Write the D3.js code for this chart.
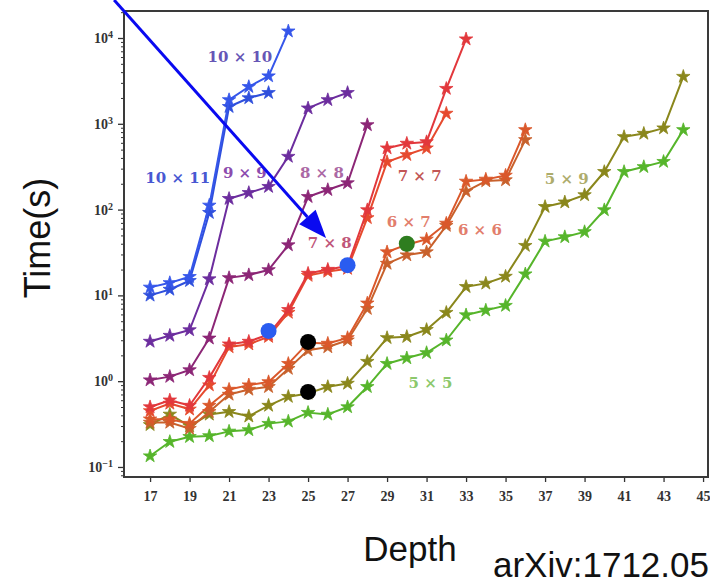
<!DOCTYPE html>
<html>
<head>
<meta charset="utf-8">
<script src="https://cdn.jsdelivr.net/npm/d3@7"></script>
<style>
  body { margin: 0; background: #fff; }
  svg { display: block; }
</style>
</head>
<body>
<svg id="chart" width="710" height="581"></svg>
<script>
// values (depth on x, seconds on a log y)
const firstDepth = 17;
const depthTicks = [17, 19, 21, 23, 25, 27, 29, 31, 33, 35, 37, 39, 41, 43, 45];
const decadeTicks = [1e-1, 1e0, 1e1, 1e2, 1e3, 1e4];

const time10x11 = [12.4, 14, 16.5, 112, 1900, 2700, 3600, 12000];
const time10x10 = [10, 11.7, 14.8, 92, 1580, 2000, 2300];
const time9x9 = [2.9, 3.4, 3.95, 15.5, 134, 157, 185, 415, 1520, 1900, 2300];
const time8x8 = [1.03, 1.13, 1.35, 3.16, 16, 17.3, 19.8, 38.6, 141, 170, 204, 970];
const time7x8 = [0.5, 0.6, 0.52, 1.1, 2.7, 2.9, 3.5, 6.8, 18, 20, 22, 99, 520, 590, 615, 2570, 9700];
const time7x7 = [0.45, 0.55, 0.47, 0.9, 2.5, 2.7, 3.3, 6.3, 17, 19, 20.5, 80, 360, 435, 520, 1320];
const time6x7 = [0.36, 0.36, 0.32, 0.52, 0.8, 0.9, 0.98, 1.6, 2.8, 2.75, 3.2, 8.1, 32, 39, 45, 69, 213, 225, 250, 850];
const time6x6 = [0.33, 0.33, 0.28, 0.44, 0.7, 0.8, 0.86, 1.4, 2.3, 2.5, 3.0, 7.0, 23.5, 29.5, 32, 65, 163, 215, 221, 650];
const time5x9 = [0.31, 0.41, 0.3, 0.41, 0.44, 0.39, 0.52, 0.66, 0.72, 0.86, 0.94, 1.69, 3.2, 3.3, 3.98, 6.3, 12.6, 13.8, 16.6, 38, 108, 122, 148, 276, 705, 770, 890, 3550];
const time5x5 = [0.134, 0.197, 0.225, 0.23, 0.26, 0.27, 0.32, 0.34, 0.43, 0.41, 0.5, 0.86, 1.6, 1.86, 2.14, 3.0, 5.9, 6.7, 7.6, 17.7, 42.6, 48, 55, 99, 276, 315, 362, 850];

const seriesNames = ['10 × 11', '10 × 10', '9 × 9', '8 × 8', '7 × 8', '7 × 7', '6 × 7', '6 × 6', '5 × 9', '5 × 5'];
const seriesTimes = [time10x11, time10x10, time9x9, time8x8, time7x8, time7x7, time6x7, time6x6, time5x9, time5x5];
const seriesColors = ['#3556ea', '#2f4fdc', '#6c2d9e', '#8c2676', '#e2383c', '#e64a2e', '#da582b', '#c8612c', '#8a871c', '#56b52b'];

// where each size label sits, in (depth, time)
const labelText = ['10 × 10', '10 × 11', '9 × 9', '8 × 8', '7 × 8', '7 × 7', '6 × 7', '6 × 6', '5 × 9', '5 × 5'];
const labelDepth = [21.55, 18.4, 21.8, 25.7, 26.1, 30.65, 30.1, 33.7, 38.1, 31.2];
const labelTime = [6000, 234, 270, 270, 41.7, 250, 72, 58, 232, 0.95];
const labelColors = ['#6656b6', '#4858d2', '#8c4cae', '#ab68a4', '#c0567a', '#c25656', '#e27e6c', '#e27e6c', '#aeac6c', '#8cc86c'];

// big round markers drawn over the curves
const dotDepth = [23, 27, 25, 25, 30];
const dotTime = [3.85, 22.5, 2.87, 0.75, 40];
const dotColors = ['#2a5cf0', '#2a5cf0', '#000000', '#000000', '#2e7d1f'];

// the blue annotation arrow (from, to) in (depth, time)
const arrowFrom = [15.18, 27700];
const arrowTo = [25.91, 46.7];

const svg = d3.select('#chart');
const box = { left: 124, right: 708, top: 11, bottom: 477 };

const x = d3.scaleLinear()
  .domain([15.68, 45.25])
  .range([box.left, box.right]);

const y = d3.scaleLog()
  .domain([0.0764, 20640])
  .range([box.bottom, box.top]);

// minor log ticks 2..9 inside the domain
const minorTicks = [];
decadeTicks.concat([1e-2]).forEach(d => {
  for (let k = 2; k < 10; k++) {
    const v = d * k;
    if (v > y.domain()[0] && v < y.domain()[1]) minorTicks.push(v);
  }
});

// ---- axes ----
const serif = '"Liberation Serif", "DejaVu Serif", serif';

const xAxis = svg.append('g')
  .attr('transform', `translate(0,${box.bottom})`)
  .call(d3.axisBottom(x).tickValues(depthTicks).tickSize(5).tickPadding(9).tickFormat(d3.format('d')));

xAxis.select('.domain').remove();
xAxis.selectAll('.tick line').attr('stroke', '#333').attr('stroke-width', 1.3);
xAxis.selectAll('.tick text')
  .attr('font-family', serif)
  .attr('font-weight', 'bold')
  .attr('font-size', 14)
  .attr('fill', '#333');

const yMinor = svg.append('g')
  .attr('transform', `translate(${box.left},0)`)
  .call(d3.axisLeft(y).tickValues(minorTicks).tickSize(3).tickFormat(''));
yMinor.select('.domain').remove();
yMinor.selectAll('.tick line').attr('stroke', '#333').attr('stroke-width', 1);

const yAxis = svg.append('g')
  .attr('transform', `translate(${box.left},0)`)
  .call(d3.axisLeft(y).tickValues(decadeTicks).tickSize(6).tickPadding(5).tickFormat(''));
yAxis.select('.domain').remove();
yAxis.selectAll('.tick line').attr('stroke', '#333').attr('stroke-width', 1.3);

// 10^n labels with a raised exponent
yAxis.selectAll('.tick text')
  .attr('font-family', serif)
  .attr('font-weight', 'bold')
  .attr('font-size', 14)
  .attr('fill', '#333')
  .each(function (d) {
    const t = d3.select(this);
    t.text('10');
    t.append('tspan')
      .attr('dy', '-0.5em')
      .attr('font-size', 10)
      .text(String(Math.round(Math.log10(d))).replace('-', '−'));
  });

// plot frame
svg.append('rect')
  .attr('x', box.left)
  .attr('y', box.top)
  .attr('width', box.right - box.left)
  .attr('height', box.bottom - box.top)
  .attr('fill', 'none')
  .attr('stroke', '#3a3a3a')
  .attr('stroke-width', 2);

// ---- series ----
const line = d3.line()
  .x((d, i) => x(firstDepth + i))
  .y(d => y(d));

const star = d3.symbol().type(d3.symbolStar).size(56);

// draw from the bottom group up so the upper curves sit on top like in the figure
const order = d3.range(seriesTimes.length).reverse();

order.forEach(s => {
  const g = svg.append('g').attr('class', 'series');
  g.append('path')
    .datum(seriesTimes[s])
    .attr('d', line)
    .attr('fill', 'none')
    .attr('stroke', seriesColors[s])
    .attr('stroke-width', 2)
    .attr('stroke-linejoin', 'round');

  g.selectAll('path.star')
    .data(seriesTimes[s])
    .join('path')
    .attr('class', 'star')
    .attr('d', star)
    .attr('transform', (d, i) => `translate(${x(firstDepth + i)},${y(d)})`)
    .attr('fill', seriesColors[s])
    .attr('stroke', seriesColors[s])
    .attr('stroke-width', 0.8);
});

// size labels
svg.append('g')
  .selectAll('text')
  .data(labelText)
  .join('text')
  .attr('x', (d, i) => x(labelDepth[i]))
  .attr('y', (d, i) => y(labelTime[i]))
  .attr('dy', '0.36em')
  .attr('text-anchor', 'middle')
  .attr('font-family', '"DejaVu Serif", serif')
  .attr('font-weight', 'bold')
  .attr('font-size', 15)
  .attr('fill', (d, i) => labelColors[i])
  .text(d => d);

// round markers
svg.append('g')
  .selectAll('circle')
  .data(dotTime)
  .join('circle')
  .attr('cx', (d, i) => x(dotDepth[i]))
  .attr('cy', d => y(d))
  .attr('r', 8)
  .attr('fill', (d, i) => dotColors[i]);

// annotation arrow
const p0 = [x(arrowFrom[0]), y(arrowFrom[1])];
const p1 = [x(arrowTo[0]), y(arrowTo[1])];
const ang = Math.atan2(p1[1] - p0[1], p1[0] - p0[0]);
const headLen = 28, headHalf = 11;
const base = [p1[0] - headLen * Math.cos(ang), p1[1] - headLen * Math.sin(ang)];

svg.append('line')
  .attr('x1', p0[0]).attr('y1', p0[1])
  .attr('x2', base[0]).attr('y2', base[1])
  .attr('stroke', '#0a0af0')
  .attr('stroke-width', 3);

svg.append('path')
  .attr('d', d3.line()([
    p1,
    [base[0] + headHalf * Math.sin(ang), base[1] - headHalf * Math.cos(ang)],
    [base[0] - headHalf * Math.sin(ang), base[1] + headHalf * Math.cos(ang)]
  ]) + 'Z')
  .attr('fill', '#0a0af0');

// ---- titles ----
const sans = '"Liberation Sans", Arial, sans-serif';

svg.append('text')
  .attr('transform', `translate(50,238) rotate(-90)`)
  .attr('text-anchor', 'middle')
  .attr('font-family', sans)
  .attr('font-size', 36)
  .attr('fill', '#111')
  .text('Time(s)');

svg.append('text')
  .attr('x', 410)
  .attr('y', 561)
  .attr('text-anchor', 'middle')
  .attr('font-family', sans)
  .attr('font-size', 35)
  .attr('fill', '#111')
  .text('Depth');

// the source note runs off the right edge, as in the figure
svg.append('text')
  .attr('x', 493)
  .attr('y', 577)
  .attr('font-family', sans)
  .attr('font-size', 35)
  .attr('fill', '#111')
  .text('arXiv:1712.05384');
</script>
</body>
</html>
